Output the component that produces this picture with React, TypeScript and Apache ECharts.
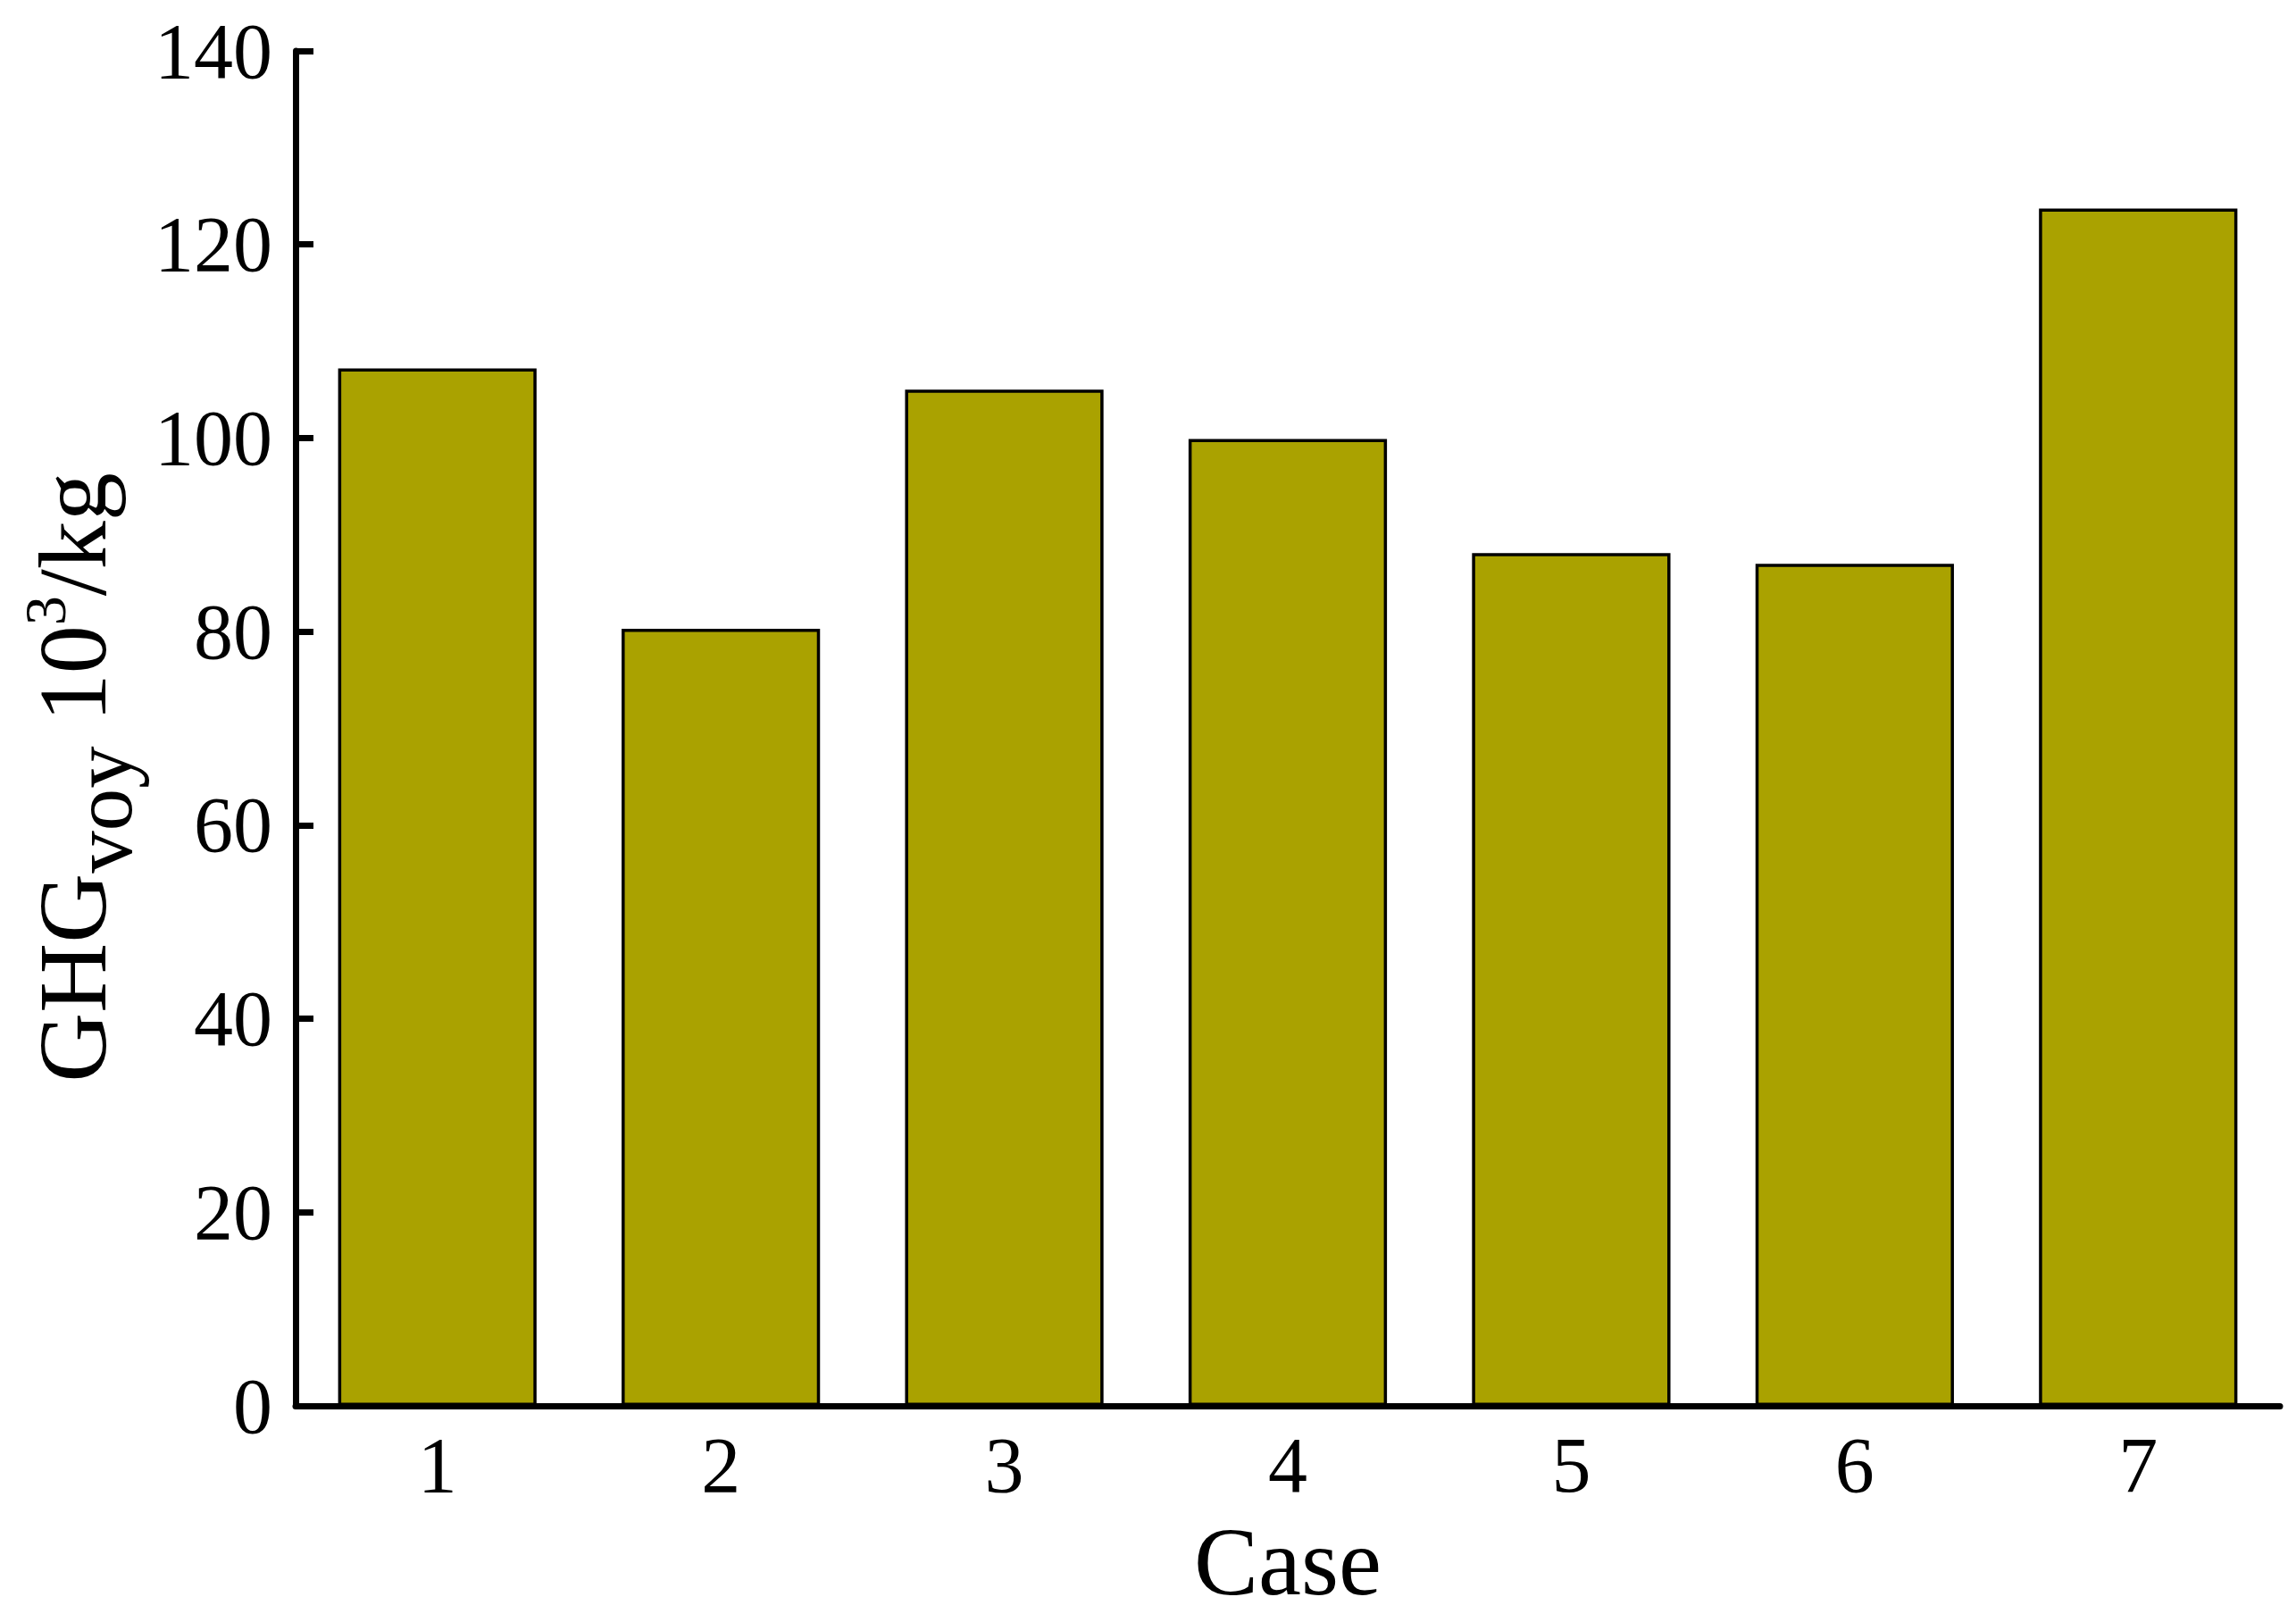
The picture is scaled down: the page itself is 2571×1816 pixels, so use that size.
import React, { useEffect, useRef } from "react";
import * as echarts from "echarts";

const categories = ["1", "2", "3", "4", "5", "6", "7"];
const ghgValues = [107.2, 80.3, 105.0, 99.9, 88.1, 87.0, 123.7];
const yTicks = { min: 0, max: 140, interval: 20 };

const FONT = "'Liberation Serif', 'Times New Roman', serif";

export default function App() {
  const ref = useRef<HTMLDivElement>(null);
  useEffect(() => {
    if (!ref.current) return;
    const chart = echarts.init(ref.current, null, { renderer: "svg" });
    chart.setOption({
      animation: false,
      backgroundColor: "#ffffff",
      grid: { left: 331, right: 18, top: 57, bottom: 242, containLabel: false },
      xAxis: {
        type: "category",
        data: categories,
        name: "Case",
        nameLocation: "middle",
        nameGap: 120,
        nameTextStyle: { fontFamily: FONT, fontSize: 108, fontWeight: "normal", color: "#000", verticalAlign: "top" },
        axisLine: { show: true, lineStyle: { color: "#000", width: 7 } },
        axisTick: { show: true, inside: true, alignWithLabel: true, length: 20, lineStyle: { color: "#000", width: 6 } },
        axisLabel: { fontFamily: FONT, fontSize: 88, color: "#000", margin: 22 },
        splitLine: { show: false },
      },
      yAxis: {
        type: "value",
        min: yTicks.min,
        max: yTicks.max,
        interval: yTicks.interval,
        name: "{m|GHG}{sub|voy}{m| 10}{sup|3}{m|/kg}",
        nameLocation: "middle",
        nameGap: 190,
        nameTextStyle: {
          fontFamily: FONT,
          fontSize: 108,
          fontWeight: "normal",
          color: "#000",
          padding: [0, 110, 0, 0],
          rich: {
            m: { fontFamily: FONT, fontSize: 108, fontWeight: "normal", height: 108, lineHeight: 108, color: "#000" },
            sub: { fontFamily: FONT, fontSize: 95, fontWeight: "normal", height: 41, lineHeight: 41, verticalAlign: "bottom", color: "#000" },
            sup: { fontFamily: FONT, fontSize: 66, fontWeight: "normal", height: 47, lineHeight: 47, verticalAlign: "top", color: "#000" },
          },
        },
        axisLine: { show: true, lineStyle: { color: "#000", width: 7 } },
        axisTick: { show: true, inside: true, length: 20, lineStyle: { color: "#000", width: 7 } },
        axisLabel: { fontFamily: FONT, fontSize: 88, color: "#000", margin: 26 },
        splitLine: { show: false },
      },
      series: [
        {
          type: "bar",
          data: ghgValues,
          barWidth: "70%",
          itemStyle: { color: "#aaa200", borderColor: "#000", borderWidth: 3.5 },
        },
      ],
    });
    return () => chart.dispose();
  }, []);
  return (
    <div
      ref={ref}
      style={{ position: "fixed", left: 0, top: 0, width: 2571, height: 1816, background: "#fff" }}
    />
  );
}
